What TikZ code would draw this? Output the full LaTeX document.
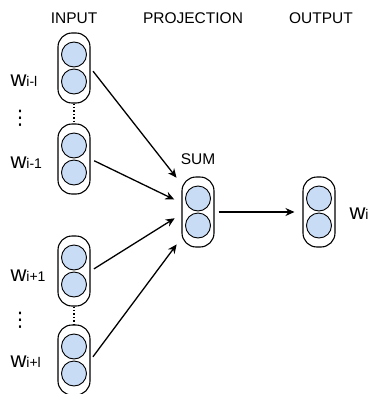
\documentclass[tikz,border=0pt]{standalone}
\usetikzlibrary{arrows.meta, positioning}
\usepackage{xcolor}
\usepackage{fontspec}
\setmainfont{Liberation Sans}
\newfontfamily\dotsfont{DejaVu Sans}
\definecolor{cellblue}{RGB}{200,220,246}
\def\cellsep{13.5pt}
\newcommand{\wlab}[1]{{\fontsize{22}{26}\selectfont w}{\fontsize{14}{17}\selectfont #1}}

\begin{document}
\begin{tikzpicture}[x=1pt, y=-1pt, line width=1.1pt, >={Stealth[length=9pt,width=8pt]}]
    \tikzstyle{layer}=[draw=black, rounded corners=14pt, minimum width=32pt, minimum height=70pt, inner sep=0pt]
    \tikzstyle{cell}=[circle, fill=cellblue, draw=black, line width=0.9pt, minimum size=25pt, inner sep=0pt]
    \tikzstyle{head}=[font=\fontsize{15.5}{18}\selectfont, anchor=base]
    \tikzstyle{word}=[anchor=base west, inner sep=0pt]
    \tikzstyle{skip}=[font=\dotsfont\fontsize{20}{22}\selectfont, inner sep=0pt]
    \tikzstyle{link}=[->, line width=1.3pt, shorten <=4pt, shorten >=8pt]

    \useasboundingbox (0,0) rectangle (369,394);

    % Draw the input layer boxes
    \foreach \name / \y in {1/68, 2/159, 3/271, 4/360}
        \node[layer] (I-\name) at (74,\y) {};

    % Draw the projection and output boxes
    \node[layer] (P) at (198,212) {};
    \node[layer] (O) at (319,212) {};

    % Two cells in every box
    \foreach \name in {I-1,I-2,I-3,I-4,P,O} {
        \node[cell] (\name-a) at ([yshift=\cellsep]\name.center) {};
        \node[cell] (\name-b) at ([yshift=-\cellsep]\name.center) {};
    }

    % Headings
    \node[head] (in-head) at (74,23) {INPUT};
    \node[head] (proj-head) at (193,23) {PROJECTION};
    \node[head] (out-head) at (321,23) {OUTPUT};
    \node[font=\fontsize{15.5}{18}\selectfont, above=8pt of P] (sum) {SUM};

    % Word labels
    \foreach \name / \y / \sub in {1/86/i-l, 2/168/i-1, 3/281/i+1, 4/367/i+l}
        \node[word] (w-\name) at (10,\y) {\wlab{\sub}};
    \node[word] (w-out) at (349,219) {\wlab{i}};

    % Skipped context words
    \draw[dotted, line width=1.4pt] (I-1) -- (I-2);
    \draw[dotted, line width=1.4pt] (I-3) -- (I-4);
    \node[skip] (dots-1) at (20,118) {⋮};
    \node[skip] (dots-2) at (20,320) {⋮};

    % Connect every input box with the sum
    \foreach \source / \dy in {1/28pt, 2/9pt, 3/-2pt, 4/-26pt}
        \draw[link] (I-\source.east) -- ([yshift=\dy]P.west);

    % Connect the sum with the output
    \draw[link] (P) -- (O);
\end{tikzpicture}
\end{document}
